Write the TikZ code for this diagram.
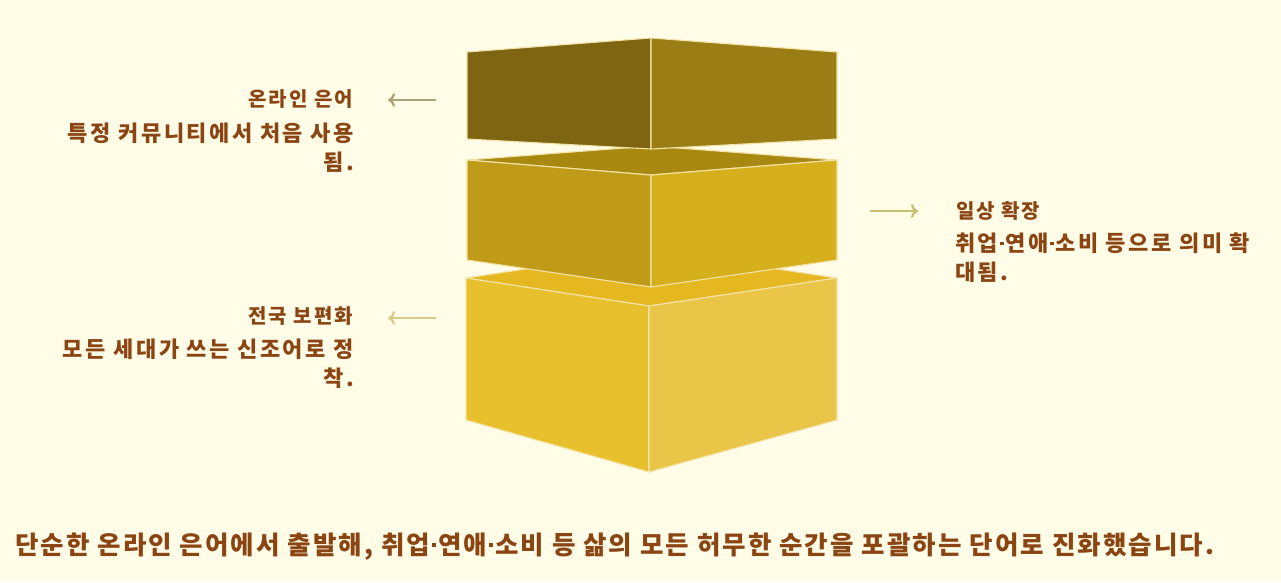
\documentclass[tikz,border=0pt]{standalone}
\usepackage{fontspec}
\setmainfont{Noto Sans CJK KR}
\newfontfamily\ttlfont{Noto Sans CJK KR}[LetterSpace=10]
\newfontfamily\dscfont{Noto Sans CJK KR}[LetterSpace=11.5]
\newfontfamily\sumfont{Noto Sans CJK KR}[LetterSpace=8]
\newcommand{\md}{\kern0.08em\raisebox{0.3em}{\rule{0.16em}{0.16em}}\kern0.08em}
\usetikzlibrary{arrows.meta}
\definecolor{bgc}{HTML}{FFFDE8}
\definecolor{topL}{HTML}{7E6511}
\definecolor{topR}{HTML}{9A7D14}
\definecolor{midT}{HTML}{A9880F}
\definecolor{midL}{HTML}{BF9B18}
\definecolor{midR}{HTML}{D5AF1C}
\definecolor{botT}{HTML}{E5B822}
\definecolor{botL}{HTML}{E8C02E}
\definecolor{botR}{HTML}{EAC648}
\definecolor{edgec}{HTML}{F3E3A8}
\definecolor{txt}{HTML}{8B4513}
\definecolor{arA}{HTML}{A9A57A}
\definecolor{arB}{HTML}{C8C070}
\definecolor{arC}{HTML}{D8CB8A}
\tikzset{
  face/.style={draw=edgec, line width=1.1pt, line join=round},
  ttl/.style={font=\ttlfont\fontsize{20}{24}\selectfont\bfseries, text=txt, inner sep=0pt},
  dsc/.style={font=\dscfont\fontsize{22}{28.5}\selectfont\bfseries, text=txt, inner sep=0pt},
  conn/.style={line width=2.2pt, -{To[length=7pt,width=14pt]}},
}
\begin{document}
\begin{tikzpicture}[x=1pt,y=-1pt]
\fill[bgc] (0,0) rectangle (1281,582);
\useasboundingbox (0,0) rectangle (1281,582);
% bottom box
\filldraw[face, fill=botT] (651,250) -- (837,278) -- (649,306) -- (466,278) -- cycle;
\filldraw[face, fill=botL] (466,278) -- (649,306) -- (649,472) -- (466,420) -- cycle;
\filldraw[face, fill=botR] (649,306) -- (837,278) -- (837,420) -- (649,472) -- cycle;
% middle box
\filldraw[face, fill=midT] (651,146) -- (837,160) -- (651,175) -- (467,160) -- cycle;
\filldraw[face, fill=midL] (467,160) -- (651,175) -- (651,287) -- (467,260) -- cycle;
\filldraw[face, fill=midR] (651,175) -- (837,160) -- (837,260) -- (651,287) -- cycle;
% top box
\filldraw[face, fill=topL] (467,52) -- (651,38) -- (651,149) -- (467,139) -- cycle;
\filldraw[face, fill=topR] (651,38) -- (837,52) -- (837,139) -- (651,149) -- cycle;
% texts
\node[ttl, anchor=east] (t1) at (353,99) {온라인 은어};
\node[dsc, anchor=north east, align=right] (d1) at (354,123) {특정 커뮤니티에서 처음 사용\\됨.};
\node[ttl, anchor=west] (t2) at (956,211) {일상 확장};
\node[dsc, anchor=north west, align=left] (d2) at (955,233) {취업\md 연애\md 소비 등으로 의미 확\\대됨.};
\node[ttl, anchor=east] (t3) at (353,316) {전국 보편화};
\node[dsc, anchor=north east, align=right] (d3) at (354,339) {모든 세대가 쓰는 신조어로 정\\착.};
\node[font=\sumfont\fontsize{25.5}{30}\selectfont\bfseries, text=txt, inner sep=0pt, anchor=west] (sum) at (15,547) {단순한 온라인 은어에서 출발해, 취업\md 연애\md 소비 등 삶의 모든 허무한 순간을 포괄하는 단어로 진화했습니다.};
% arrows
\coordinate (a1s) at (436,100); \coordinate (a1e) at (388,100);
\coordinate (a2s) at (870,211); \coordinate (a2e) at (918,211);
\coordinate (a3s) at (436,318); \coordinate (a3e) at (388,318);
\draw[conn, arA] (a1s) -- (a1e);
\draw[conn, arB] (a2s) -- (a2e);
\draw[conn, arC] (a3s) -- (a3e);
\end{tikzpicture}
\end{document}
